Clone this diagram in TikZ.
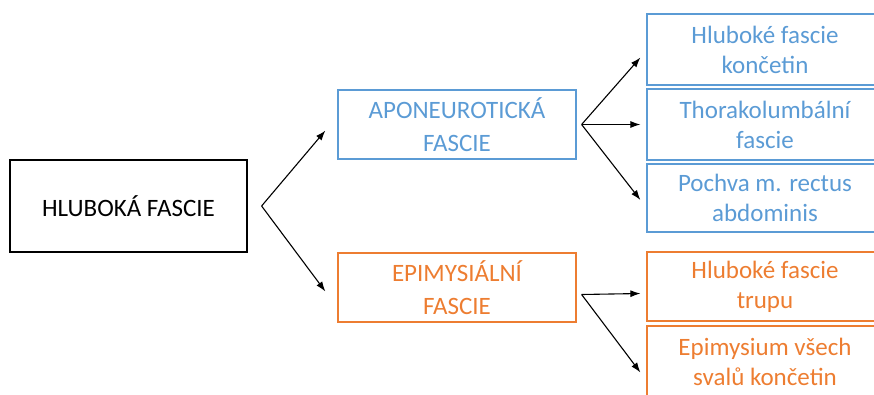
\documentclass[tikz,border=0pt]{standalone}
\usepackage{fontspec}
\setmainfont{Carlito}
\usepackage{xcolor}
\usetikzlibrary{arrows,positioning,calc,arrows.meta}
\definecolor{fblue}{RGB}{91,155,213}
\definecolor{forange}{RGB}{237,125,49}

\begin{document}
\begin{tikzpicture}[x=1pt, y=-1pt, >={Latex[length=10pt,width=7pt]},
    box/.style={draw, line width=1.2pt, align=center, inner sep=0pt,
      font=\fontsize{25}{30}\selectfont},
    bluebox/.style={box, draw=fblue, text=fblue},
    orangebox/.style={box, draw=forange, text=forange},
    wide/.style={font=\fontsize{25}{33}\selectfont},
    link/.style={->, line width=1.1pt}]
    \useasboundingbox (0,0) rectangle (874,394);

    % left
    \node[box, minimum width=237pt, minimum height=92pt] (deep) at (128.5, 206) {HLUBOKÁ FASCIE};

    % middle
    \node[bluebox, wide, minimum width=238pt, minimum height=69pt] (apo) at (457, 124.5) {APONEUROTICKÁ\\FASCIE};
    \node[orangebox, wide, minimum width=238pt, minimum height=69pt] (epi) at (457, 287.5) {EPIMYSIÁLNÍ\\FASCIE};

    % right, cut at the border
    \node[bluebox, minimum width=236pt, minimum height=71pt] (limb) at (765, 49.5) {Hluboké fascie\\končetin};
    \node[bluebox, minimum width=236pt, minimum height=71pt] (thor) at (765, 124.5) {Thorakolumbální\\fascie};
    \node[bluebox, minimum width=236pt, minimum height=68pt] (rect) at (765, 198) {Pochva m. rectus\\abdominis};
    \node[orangebox, minimum width=236pt, minimum height=69pt] (trunk) at (765, 286.5) {Hluboké fascie\\trupu};
    \node[orangebox, minimum width=236pt, minimum height=71pt] (musc) at (765, 361.5) {Epimysium všech\\svalů končetin};

    % forks
    \coordinate (f0) at ($(deep.east)+(14,0)$);
    \coordinate (f1) at ($(apo.east)+(5,0)$);
    \coordinate (f2) at ($(epi.east)+(5,7)$);

    \draw[link] (f0) -- ($(apo.west)+(-12,6)$);
    \draw[link] (f0) -- ($(epi.west)+(-12,4)$);

    \draw[link] (f1) -- ($(limb.west)+(-6,8)$);
    \draw[link] (f1) -- ($(thor.west)+(-6,0)$);
    \draw[link] (f1) -- ($(rect.west)+(-6,2)$);

    \draw[link] (f2) -- ($(trunk.west)+(-6,7)$);
    \draw[link] (f2) -- ($(musc.west)+(-6,11)$);
\end{tikzpicture}
\end{document}
